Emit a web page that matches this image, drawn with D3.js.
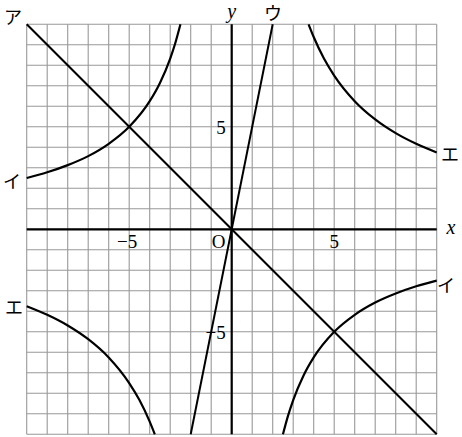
<!DOCTYPE html>
<html>
<head>
<meta charset="utf-8">
<script src="https://cdn.jsdelivr.net/npm/d3@7"></script>
<style>
  body { margin: 0; background: #fff; }
  svg { display: block; }
  .num { font-family: "Liberation Serif", "DejaVu Serif", serif; font-size: 19px; }
  .var { font-family: "Liberation Serif", "DejaVu Serif", serif; font-style: italic; font-size: 20px; }
  .kana { font-family: "Noto Sans CJK JP", sans-serif; font-size: 18px; }
</style>
</head>
<body>
<svg width="462" height="437"></svg>
<script>
// grid goes from -10 to 10 both ways
const gridRange = d3.range(-10, 11);
const tickValues = [-5, 5];

// straight lines, end points
const lineA = [[-10, 10], [10, -10]];   // ア
const lineU = [[-2, -10], [2, 10]];     // ウ

// curve イ (two branches)
const curveI1 = [[-10, 2.5], [-9, 2.78], [-8, 3.13], [-7, 3.57], [-6, 4.17], [-5, 5], [-4, 6.25], [-3.5, 7.14], [-3, 8.33], [-2.75, 9.09], [-2.5, 10]];
const curveI2 = [[2.5, -10], [2.75, -9.09], [3, -8.33], [3.5, -7.14], [4, -6.25], [5, -5], [6, -4.17], [7, -3.57], [8, -3.13], [9, -2.78], [10, -2.5]];
// curve エ (two branches)
const curveE1 = [[3.75, 10], [4, 9.38], [4.5, 8.33], [5, 7.5], [6, 6.25], [7, 5.36], [8, 4.69], [9, 4.17], [10, 3.75]];
const curveE2 = [[-10, -3.75], [-9, -4.17], [-8, -4.69], [-7, -5.36], [-6, -6.25], [-5, -7.5], [-4.5, -8.33], [-4, -9.38], [-3.75, -10]];

const svg = d3.select('svg');
const x = d3.scaleLinear().domain([-10, 10]).range([26.7, 436.7]);
const y = d3.scaleLinear().domain([-10, 10]).range([434.3, 24.3]);

// grid
const grid = svg.append('g').attr('stroke', '#999').attr('stroke-width', 1.1);
grid.selectAll('.gx').data(gridRange).enter().append('line')
  .attr('x1', d => x(d)).attr('x2', d => x(d))
  .attr('y1', y(-10)).attr('y2', y(10));
grid.selectAll('.gy').data(gridRange).enter().append('line')
  .attr('y1', d => y(d)).attr('y2', d => y(d))
  .attr('x1', x(-10)).attr('x2', x(10));

// axes
svg.append('line').attr('x1', x(-10)).attr('x2', x(10)).attr('y1', y(0)).attr('y2', y(0))
  .attr('stroke', '#000').attr('stroke-width', 2.2);
svg.append('line').attr('x1', x(0)).attr('x2', x(0)).attr('y1', y(-10)).attr('y2', y(10))
  .attr('stroke', '#000').attr('stroke-width', 2.2);

const line = d3.line().x(d => x(d[0])).y(d => y(d[1]));
const smooth = d3.line().x(d => x(d[0])).y(d => y(d[1])).curve(d3.curveMonotoneX);

[lineA, lineU].forEach(p => {
  svg.append('path').attr('d', line(p)).attr('fill', 'none')
    .attr('stroke', '#000').attr('stroke-width', 2);
});
[curveI1, curveI2, curveE1, curveE2].forEach(p => {
  svg.append('path').attr('d', smooth(p)).attr('fill', 'none')
    .attr('stroke', '#000').attr('stroke-width', 2.2);
});

// tick labels
svg.selectAll('.tx').data(tickValues).enter().append('text')
  .attr('class', 'num').attr('text-anchor', 'middle')
  .attr('x', d => x(d) + (d < 0 ? -2 : 0)).attr('y', y(0) + 19)
  .text(d => d < 0 ? '\u2212' + (-d) : d);
svg.selectAll('.ty').data(tickValues).enter().append('text')
  .attr('class', 'num').attr('text-anchor', 'end')
  .attr('x', x(0) - 6).attr('y', d => y(d) + 7)
  .text(d => d < 0 ? '\u2212' + (-d) : d);
svg.append('text').attr('class', 'num').attr('text-anchor', 'middle')
  .attr('x', x(0) - 13).attr('y', y(0) + 19).text('O');

// axis names
svg.append('text').attr('class', 'var').attr('text-anchor', 'middle')
  .attr('x', 451).attr('y', y(0) + 5).text('x');
svg.append('text').attr('class', 'var').attr('text-anchor', 'middle')
  .attr('x', x(0)).attr('y', 17.5).text('y');

// graph names
const names = [['ア', 13, 16], ['ウ', 273, 12], ['イ', 12, 180], ['エ', 450, 153], ['エ', 14, 306], ['イ', 446, 284]];
svg.selectAll('.kana').data(names).enter().append('text')
  .attr('class', 'kana').attr('text-anchor', 'middle').attr('dominant-baseline', 'central')
  .attr('x', d => d[1]).attr('y', d => d[2]).text(d => d[0]);
</script>
</body>
</html>
